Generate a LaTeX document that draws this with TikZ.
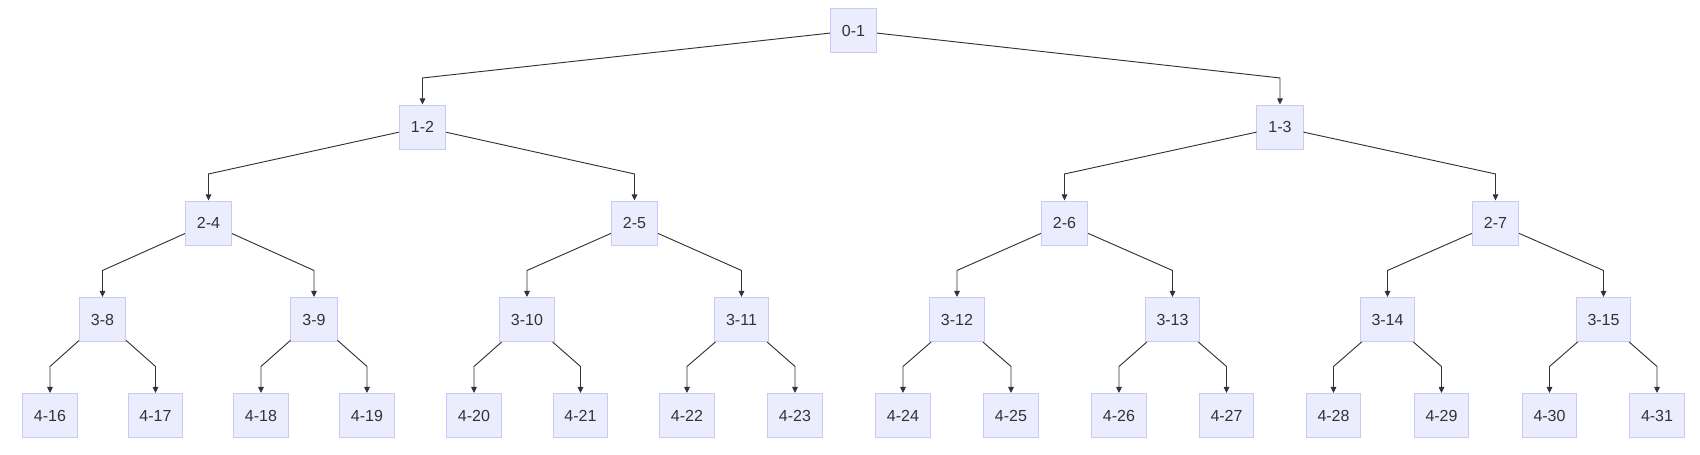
\documentclass[tikz,border=0pt]{standalone}
\usepackage{fontspec}
\setmainfont{Liberation Sans}
\usetikzlibrary{arrows.meta}
\definecolor{boxfill}{HTML}{ECECFF}
\definecolor{boxline}{HTML}{C9C9F7}
\definecolor{linec}{HTML}{333333}
\newcommand\tedge[2]{\draw[conn] (#1) -- ([yshift=19.9pt]#2.north) -- (#2.north);}
\begin{document}
\begin{tikzpicture}[x=0.75pt,y=-0.75pt,
  box/.style={draw=boxline,fill=boxfill,line width=0.75pt,minimum height=33pt,inner xsep=8.6pt,inner ysep=0pt,font=\fontsize{12pt}{14pt}\selectfont,text=linec},
  conn/.style={draw=linec,line width=0.7pt,-{Triangle[length=4.6pt,width=4.2pt]}}]
\useasboundingbox (0,0) rectangle (1700,454);
% level 0
\node[box] (n01) at (853.5,30.5) {0-1};
% level 1
\node[box] (n12) at (422.5,127) {1-2};
\node[box] (n13) at (1280,127) {1-3};
% level 2
\node[box] (n24) at (208.5,223) {2-4};
\node[box] (n25) at (634.5,223) {2-5};
\node[box] (n26) at (1064.5,223) {2-6};
\node[box] (n27) at (1495.5,223) {2-7};
% level 3
\node[box] (n38) at (102.5,319.5) {3-8};
\node[box] (n39) at (314,319.5) {3-9};
\node[box] (n310) at (527,319.5) {3-10};
\node[box] (n311) at (741.5,319.5) {3-11};
\node[box] (n312) at (957,319.5) {3-12};
\node[box] (n313) at (1172.5,319.5) {3-13};
\node[box] (n314) at (1387.5,319.5) {3-14};
\node[box] (n315) at (1603.5,319.5) {3-15};
% level 4
\node[box] (n416) at (50,415.5) {4-16};
\node[box] (n417) at (155.5,415.5) {4-17};
\node[box] (n418) at (261,415.5) {4-18};
\node[box] (n419) at (367,415.5) {4-19};
\node[box] (n420) at (474,415.5) {4-20};
\node[box] (n421) at (580.5,415.5) {4-21};
\node[box] (n422) at (687,415.5) {4-22};
\node[box] (n423) at (795,415.5) {4-23};
\node[box] (n424) at (903,415.5) {4-24};
\node[box] (n425) at (1011,415.5) {4-25};
\node[box] (n426) at (1119,415.5) {4-26};
\node[box] (n427) at (1226.5,415.5) {4-27};
\node[box] (n428) at (1333.5,415.5) {4-28};
\node[box] (n429) at (1441.5,415.5) {4-29};
\node[box] (n430) at (1549.5,415.5) {4-30};
\node[box] (n431) at (1657,415.5) {4-31};
% edges
\tedge{n01}{n12}\tedge{n01}{n13}
\tedge{n12}{n24}\tedge{n12}{n25}
\tedge{n13}{n26}\tedge{n13}{n27}
\tedge{n24}{n38}\tedge{n24}{n39}
\tedge{n25}{n310}\tedge{n25}{n311}
\tedge{n26}{n312}\tedge{n26}{n313}
\tedge{n27}{n314}\tedge{n27}{n315}
\tedge{n38}{n416}\tedge{n38}{n417}
\tedge{n39}{n418}\tedge{n39}{n419}
\tedge{n310}{n420}\tedge{n310}{n421}
\tedge{n311}{n422}\tedge{n311}{n423}
\tedge{n312}{n424}\tedge{n312}{n425}
\tedge{n313}{n426}\tedge{n313}{n427}
\tedge{n314}{n428}\tedge{n314}{n429}
\tedge{n315}{n430}\tedge{n315}{n431}
\end{tikzpicture}
\end{document}
